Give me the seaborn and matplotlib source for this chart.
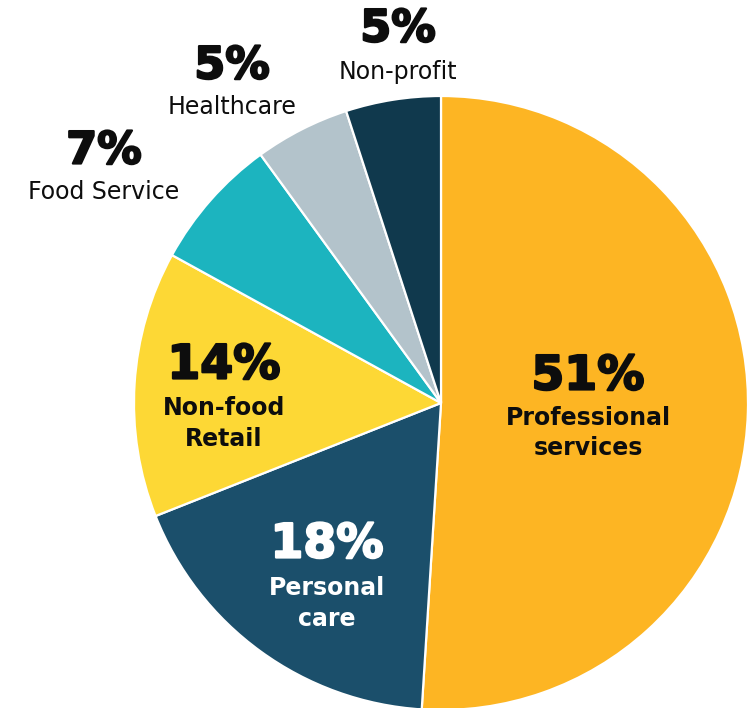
import matplotlib
matplotlib.use("Agg")
import matplotlib.pyplot as plt
import matplotlib.patheffects as pe
import seaborn as sns

# Share of businesses by sector
sectors = ["Professional services", "Personal care", "Non-food Retail",
           "Food Service", "Healthcare", "Non-profit"]
shares = [51, 18, 14, 7, 5, 5]
label_lines = [["Professional", "services"], ["Personal", "care"],
               ["Non-food", "Retail"], ["Food Service"], ["Healthcare"],
               ["Non-profit"]]

colors = ["#FDB523", "#1B4F6B", "#FDD835", "#1CB4BF", "#B3C3CB", "#10394D"]

sns.set_theme(style="white")
plt.rcParams["font.family"] = ["DejaVu Sans"]

W, H = 747, 708
fig = plt.figure(figsize=(W / 100, H / 100), dpi=100)
ax = fig.add_axes([0, 0, 1, 1])

cx, cy, r = 441, 403, 307
ax.pie(shares, colors=colors, startangle=90, counterclock=False,
       center=(cx, H - cy), radius=r, frame=True,
       wedgeprops=dict(edgecolor="white", linewidth=1.6))
ax.set_xlim(0, W)
ax.set_ylim(0, H)
ax.set_aspect("equal")
ax.axis("off")

# label anchors: x, y of percent line, y of each name line, colour, inside
layout = [
    (588, 377, [418, 448], "#0d0d0d", True),
    (327, 545, [588, 619], "white", True),
    (224, 366, [408, 439], "#0d0d0d", True),
    (104, 151, [192], "#0d0d0d", False),
    (232, 66, [107], "#0d0d0d", False),
    (398, 29, [72], "#0d0d0d", False),
]

for v, lines, (x, yp, ys, col, inside) in zip(shares, label_lines, layout):
    ax.text(x, H - yp, f"{v}%", ha="center", va="center", color=col,
            fontsize=34 if inside else 32, fontweight="heavy",
            path_effects=[pe.withStroke(linewidth=1.6, foreground=col)])
    for line, yl in zip(lines, ys):
        ax.text(x, H - yl, line, ha="center", va="center", color=col,
                fontsize=17, fontweight="bold" if inside else "normal")

fig.savefig("out.png", dpi=100)
